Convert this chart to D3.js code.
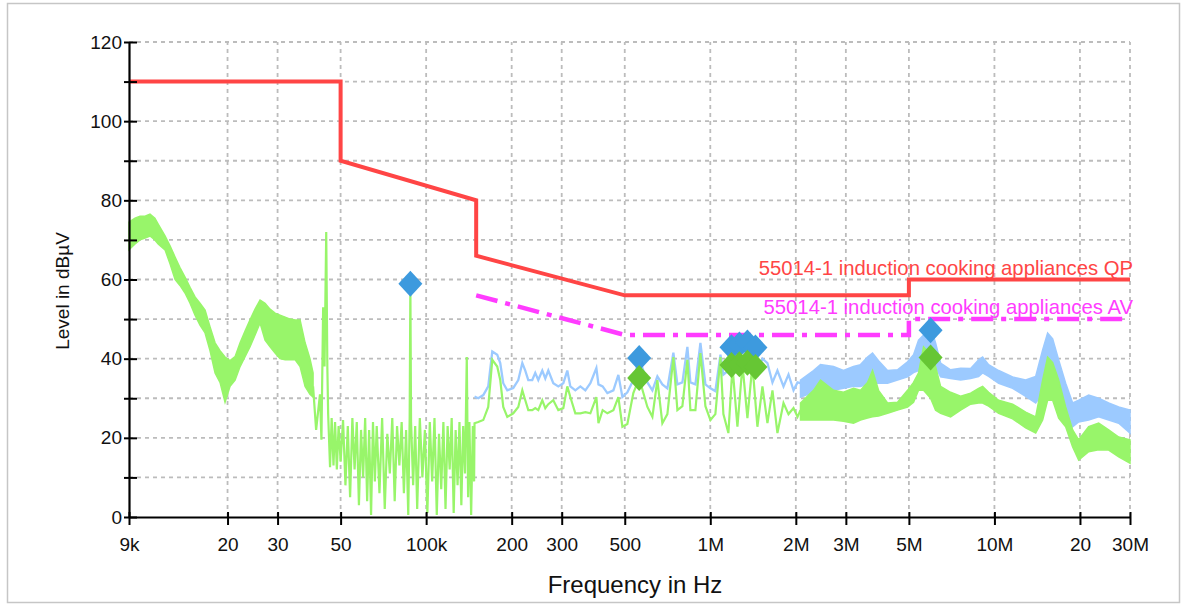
<!DOCTYPE html>
<html>
<head>
<meta charset="utf-8">
<script src="https://cdnjs.cloudflare.com/ajax/libs/d3/7.8.5/d3.min.js"></script>
<style>
  body { margin: 0; background: #fff; }
  svg { font-family: "Liberation Sans", Arial, sans-serif; }
</style>
</head>
<body>
<script>
// axis ticks
const xTicks = [9e3, 2e4, 3e4, 5e4, 1e5, 2e5, 3e5, 5e5, 1e6, 2e6, 3e6, 5e6, 1e7, 2e7, 3e7];
const xTickLabels = ["9k", "20", "30", "50", "100k", "200", "300", "500", "1M", "2M", "3M", "5M", "10M", "20", "30M"];
const yTicks = [0, 10, 20, 30, 40, 50, 60, 70, 80, 90, 100, 110, 120];

// limit lines (Hz, dBuV)
const qpFreq = [9e3, 50e3, 50e3, 150e3, 150e3, 500e3, 5e6, 5e6, 30e6];
const qpLimit = [110, 110, 90, 80, 66, 56, 56, 60, 60];
const avFreq = [150e3, 500e3, 5e6, 5e6, 30e6];
const avLimit = [56, 46, 46, 50, 50];

// green (AV) trace, 9k..40k as envelope (kHz)
const lowFreq = [9.0, 9.45, 9.84, 10.25, 10.67, 11.1, 11.4, 12.05, 12.55, 13.07, 13.6, 14.17, 14.76, 15.37, 16.0, 16.67, 17.36, 18.08, 18.82, 19.6, 20.41, 21.26, 22.14, 23.05, 24.0, 25.0, 26.03, 27.11, 28.23, 29.4, 30.6, 31.9, 33.2, 34.6, 36.0, 37.5, 39.0, 40.0];
const lowMin = [67.5, 69, 70, 70.5, 71, 70, 69, 67.5, 64, 60, 58.5, 56.6, 54, 51, 48.5, 46.5, 42, 36.4, 34, 29, 33, 34.6, 38, 40.5, 43, 46, 49, 44.7, 43, 41.4, 40, 39.7, 39.7, 39.7, 38, 33, 31, 30.3];
const lowMax = [74.5, 75.5, 76, 76, 76.5, 75.5, 74, 71, 68.5, 65.7, 63, 60.6, 58, 55.6, 54, 52.3, 48, 44, 42, 40.4, 39.5, 40.5, 44, 47, 49.8, 52.5, 54.8, 54, 52.5, 51.5, 51, 50.5, 50, 49.8, 49.8, 44, 40, 36.4];

// green trace 40k..148k (kHz)
const noiseFreq = [40, 41, 42.3, 42.8, 43.4, 43.9, 44.5, 44.9, 45.2, 45.9, 46.5, 47.2, 47.8, 48.5, 49.2, 50, 51, 52, 53, 54, 55, 56, 57, 58, 59, 60, 61, 62, 63, 64, 65, 66, 67, 68.5, 70, 71.5, 73, 74.5, 76, 77.5, 79, 80.5, 82, 83.5, 85, 86.5, 87.5, 88, 88.5, 90, 91.5, 93, 95, 97, 99, 101, 103, 105, 107, 109, 111, 113, 115, 117, 119, 121, 123, 125, 127, 129, 131, 133, 135, 137, 139, 140.5, 142, 144, 146, 147.5];
const noiseGreen = [33, 22, 31, 19.5, 53, 38, 72, 38, 26, 12.6, 25, 13, 24, 12, 23, 14, 24.5, 8, 23, 5, 25, 12, 24, 3, 22, 10, 25, 4, 22, 0.5, 24, 9, 23, 6, 25, 2, 21, 11, 25, 4, 23, 13, 24, 6, 22, 0.5, 25, 58.5, 24, 8, 23, 2, 25, 10, 22, 1, 24, 9, 25, 0.5, 21, 7, 24, 2, 23, 12, 25, 1, 22, 8, 24, 3, 23, 11, 40.4, 5, 24, 0.5, 23, 9];

// both traces 148k..2.08M (kHz)
const midFreq = [148, 152.5, 158.9, 165.4, 170.9, 177.9, 182.3, 186.8, 193, 202.6, 211, 218, 223.3, 228.8, 236.3, 242.1, 248.1, 256.3, 262.6, 269.1, 280.2, 291.8, 303.9, 313.9, 321.7, 335, 348.9, 363.4, 378.4, 397.3, 404, 418, 434.3, 456, 474.8, 490.5, 510.7, 536, 562, 600.7, 625.5, 651.3, 678.2, 706.3, 741.5, 766, 797.7, 830.6, 851.1, 886.4, 923.1, 961.3, 1001, 1042, 1086, 1112, 1158, 1197, 1246, 1298, 1351, 1407, 1465, 1526, 1589, 1655, 1723, 1810, 1885, 1963, 2028, 2077];
const midBlue = [30.4, 30, 30.8, 33, 41.8, 41, 38.9, 33.8, 32, 32.6, 34.6, 38.9, 37, 34.6, 34.6, 36.4, 34.6, 37, 35, 37, 33.8, 33, 33.8, 37, 33, 32, 33, 32, 33.8, 37.6, 33.5, 33, 31.3, 32, 35.9, 30.3, 31.5, 34.6, 40, 34, 32, 35.5, 33.5, 32.5, 41.5, 33.5, 34, 43, 34, 33.5, 44, 33.5, 32.5, 31.8, 41, 36, 37, 43, 38, 43, 38, 43, 37, 40, 38.9, 34, 37, 33, 36, 32, 34, 33.8];
const midGreen = [23.7, 24, 24.5, 27.8, 39.7, 38, 34.6, 27.8, 25.3, 26.2, 27.8, 32, 29.5, 27, 27, 27.5, 27, 29.5, 27.5, 28.5, 29.5, 27, 27.5, 33, 30.3, 26.2, 26.2, 26.5, 26.2, 30.3, 23.7, 27, 26.2, 27, 30.3, 22.8, 23.5, 31.3, 35, 27.8, 25.3, 34.6, 23.7, 26, 40.4, 27, 28, 39.7, 27, 27, 41.4, 28, 24.5, 26, 40.4, 26, 21.2, 38, 22.8, 38.5, 25, 38.5, 22.8, 33, 23.7, 32, 21.2, 28.8, 26, 27.5, 25.3, 27];

// both traces 2.08M..30M as envelopes (kHz)
const hiFreq = [2077, 2308, 2443, 2715, 2943, 3191, 3378, 3576, 3724, 3910, 4206, 4560, 4946, 5192, 5407, 5631, 5961, 6207, 6465, 7010, 7604, 8245, 8797, 9087, 9540, 10350, 11590, 12880, 13970, 14780, 15390, 16030, 16830, 17810, 18850, 19790, 21460, 23270, 25240, 27380, 30000];
const hiBlueMin = [30.3, 31.5, 32, 32, 32.5, 33, 33, 33.5, 33.8, 33.8, 33.8, 34.6, 35.4, 36.5, 37, 38.5, 40, 38, 35.4, 35, 34.6, 35, 35.5, 36.4, 35.5, 33.8, 32.5, 30.5, 28.8, 31.3, 37, 35, 33, 27.8, 22.8, 24, 24.5, 25.3, 24.5, 23.7, 21.2];
const hiBlueMax = [34.6, 37, 38.5, 38, 37, 38, 38.5, 40.4, 41.4, 39.5, 37, 37.2, 39.2, 41, 44.7, 46, 48, 44, 38.9, 37.2, 37.6, 37.5, 39.7, 40.4, 38.5, 37, 35.4, 34.6, 35.5, 42.2, 46.5, 45, 39.7, 33.8, 28.8, 29.5, 30.8, 30, 28.8, 27.8, 27];
const hiGreenMin = [24.5, 24.5, 24.5, 24.5, 24.2, 23.7, 24.5, 25, 25.3, 25.5, 26.2, 27, 27.8, 29, 32, 32, 30, 27, 26.2, 25.3, 27, 28.5, 28.8, 28.8, 28, 26.2, 24.8, 22.5, 21.2, 24.5, 29.5, 29.5, 25, 22.8, 17.7, 14.4, 16.5, 17, 16.9, 15.2, 13.6];
const hiGreenMax = [28.8, 32, 34.6, 32, 31.5, 32.5, 32, 34, 37, 32, 28.8, 29, 32, 34, 36.4, 43, 41, 38, 33, 31.5, 30.5, 31.3, 32.5, 33, 31.5, 29.5, 28.5, 26.5, 25.3, 34.6, 40.4, 39, 34.6, 27.8, 22, 19.5, 22.8, 23.7, 22, 20.2, 19.5];

// final measurement markers (Hz, dBuV)
const qpMarkFreq = [88e3, 562e3, 1187e3, 1266e3, 1351e3, 1442e3, 5961e3];
const qpMarkVal = [58.9, 40.2, 42.9, 43.6, 44.1, 42.8, 47.2];
const avMarkFreq = [562e3, 1187e3, 1266e3, 1351e3, 1442e3, 5961e3];
const avMarkVal = [35.1, 38.4, 38.6, 39.0, 37.9, 40.3];

const W = 1182, H = 605;
const svg = d3.select("body").append("svg").attr("width", W).attr("height", H);

svg.append("rect")
  .attr("x", 7.5).attr("y", 3.5).attr("width", 1172).attr("height", 599)
  .attr("fill", "#fff").attr("stroke", "#c6c6c6").attr("stroke-width", 1.5);

const x = d3.scaleLog().domain([9e3, 30e6]).range([129, 1130]);
const y = d3.scaleLinear().domain([0, 120]).range([517, 42]);

// grid
const grid = svg.append("g").attr("stroke", "#bcbcbc").attr("stroke-width", 1.8).attr("stroke-dasharray", "4,4");
grid.selectAll(".h").data(yTicks.slice(1)).enter().append("line")
  .attr("x1", x(9e3)).attr("x2", x(30e6))
  .attr("y1", d => y(d)).attr("y2", d => y(d));
grid.selectAll(".v").data(xTicks.slice(1)).enter().append("line")
  .attr("x1", d => x(d)).attr("x2", d => x(d))
  .attr("y1", y(0)).attr("y2", y(120));

const kHz = a => a.map(f => f * 1e3);
const line = d3.line().x(d => x(d[0])).y(d => y(d[1]));
const band = d3.area().x(d => x(d[0])).y0(d => y(d[1])).y1(d => y(d[2]));

const blueC = "#9ccaff", greenC = "#98f56a";

// QP trace (blue)
svg.append("path").datum(d3.zip(kHz(midFreq), midBlue))
  .attr("d", line).attr("fill", "none").attr("stroke", blueC).attr("stroke-width", 2.3);
svg.append("path").datum(d3.zip(kHz(hiFreq), hiBlueMin, hiBlueMax))
  .attr("d", band).attr("fill", blueC).attr("stroke", blueC).attr("stroke-width", 1.5);

// AV trace (green)
svg.append("path").datum(d3.zip(kHz(lowFreq), lowMin, lowMax))
  .attr("d", band).attr("fill", greenC).attr("stroke", greenC).attr("stroke-width", 1.5);
svg.append("path").datum(d3.zip(kHz(noiseFreq.concat(midFreq)), noiseGreen.concat(midGreen)))
  .attr("d", line).attr("fill", "none").attr("stroke", greenC).attr("stroke-width", 2.2);
svg.append("path").datum(d3.zip(kHz(hiFreq), hiGreenMin, hiGreenMax))
  .attr("d", band).attr("fill", greenC).attr("stroke", greenC).attr("stroke-width", 1.5);

// limit lines
svg.append("path").datum(d3.zip(qpFreq, qpLimit))
  .attr("d", line).attr("fill", "none").attr("stroke", "#ff4545").attr("stroke-width", 4);
svg.append("path").datum(d3.zip(avFreq, avLimit))
  .attr("d", line).attr("fill", "none").attr("stroke", "#ff3cff").attr("stroke-width", 4.5)
  .attr("stroke-dasharray", "22,8,5,8");

svg.append("text").attr("x", 1133).attr("y", 275).attr("text-anchor", "end")
  .attr("font-size", 20.3).attr("fill", "#ff4545")
  .text("55014-1 induction cooking appliances QP");
svg.append("text").attr("x", 1133).attr("y", 314).attr("text-anchor", "end")
  .attr("font-size", 20.3).attr("fill", "#ff3cff")
  .text("55014-1 induction cooking appliances AV");

// axes
const xAxis = svg.append("g").attr("transform", "translate(0," + y(0) + ")")
  .call(d3.axisBottom(x).tickValues(xTicks).tickFormat((d, i) => xTickLabels[i])
    .tickSize(8).tickSizeOuter(0).tickPadding(13));
xAxis.selectAll(".tick line").attr("y1", -5).attr("stroke-width", 2);

const yAxis = svg.append("g").attr("transform", "translate(" + x(9e3) + ",0)")
  .call(d3.axisLeft(y).tickValues(yTicks).tickFormat(d => d % 20 === 0 ? d : "")
    .tickSize(5).tickSizeOuter(0).tickPadding(2));
yAxis.selectAll(".tick line").attr("x1", 8).attr("stroke-width", 2);

[xAxis, yAxis].forEach(g => {
  g.select(".domain").attr("stroke", "#000").attr("stroke-width", 2.2);
  g.selectAll(".tick text").attr("font-size", 19).attr("fill", "#111")
    .style("font-family", "'Liberation Sans', Arial, sans-serif");
});

// markers
const diamond = "M0,-13L12,0L0,13L-12,0Z";
svg.append("g").selectAll("path").data(d3.zip(qpMarkFreq, qpMarkVal)).enter().append("path")
  .attr("d", diamond).attr("fill", "#3d9ade")
  .attr("transform", d => "translate(" + x(d[0]) + "," + y(d[1]) + ")");
svg.append("g").selectAll("path").data(d3.zip(avMarkFreq, avMarkVal)).enter().append("path")
  .attr("d", diamond).attr("fill", "#66c634")
  .attr("transform", d => "translate(" + x(d[0]) + "," + y(d[1]) + ")");

// axis titles
svg.append("text").attr("x", 635).attr("y", 593).attr("text-anchor", "middle")
  .attr("font-size", 24).attr("fill", "#111").text("Frequency in Hz");
svg.append("text").attr("transform", "translate(69,291) rotate(-90)").attr("text-anchor", "middle")
  .attr("font-size", 19).attr("fill", "#111").text("Level in dBµV");
</script>
</body>
</html>
